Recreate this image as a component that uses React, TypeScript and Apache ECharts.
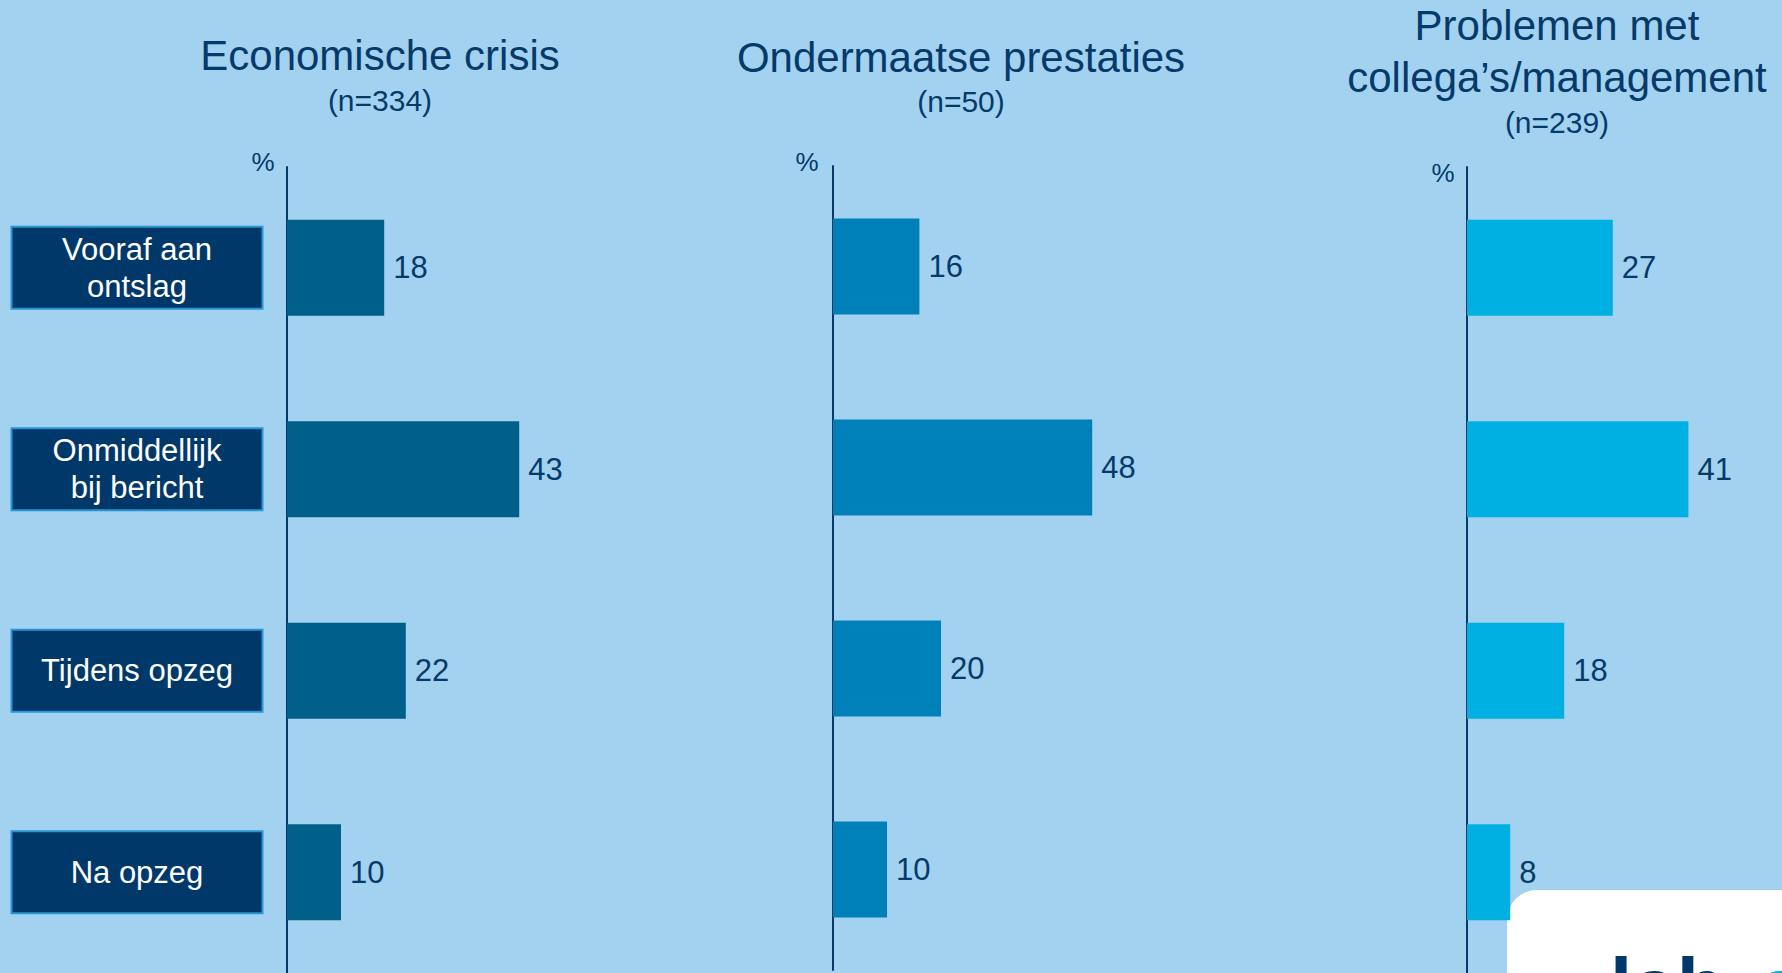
import React, { useEffect, useRef } from "react";
import * as echarts from "echarts";

// ---- data ----
const categories = ["Vooraf aan\nontslag", "Onmiddellijk\nbij bericht", "Tijdens opzeg", "Na opzeg"];
const panelTitles = ["Economische crisis", "Ondermaatse prestaties", "Problemen met\ncollega’s/management"];
const panelSizes = ["(n=334)", "(n=50)", "(n=239)"];
const economischeCrisis = [18, 43, 22, 10];
const ondermaatsePrestaties = [16, 48, 20, 10];
const problemenMetCollegas = [27, 41, 18, 8];
const axisUnit = "%";
const logoText = "lab";

// ---- styles / layout ----
const FONT = "'Liberation Sans', Arial, sans-serif";
const BG = "#A2D2F0";
const NAVY = "#053A6B";
const BOX = "#00386A";
const BOX_BORDER = "#2A95D0";
const barColors = ["#00608A", "#0080B9", "#00B0E2"];
const gridLefts = [287, 833, 1467];
const gridTops = [167, 166, 167];
const gridHeights = [808, 804, 808];
const titleX = [380, 961, 1557];
const titleY = [55, 57, 51];
const subY = [100, 101, 122];
const unitPos = [[263, 162], [807, 162], [1443, 173]];

const seriesValues = [economischeCrisis, ondermaatsePrestaties, problemenMetCollegas];

export default function App() {
  const ref = useRef<HTMLDivElement>(null);
  useEffect(() => {
    if (!ref.current) return;
    const chart = echarts.init(ref.current, undefined, { renderer: "svg" });
    const graphic: any[] = [];
    // logo card (behind bars)
    graphic.push({
      type: "rect",
      z: 0,
      shape: { x: 1507, y: 890, width: 320, height: 140, r: 30 },
      style: { fill: "#FFFFFF" },
    });
    graphic.push({
      type: "text",
      z: 0,
      x: 1610,
      y: 986,
      style: { text: logoText, fill: "#00386A", font: `bold 80px ${FONT}`, verticalAlign: "middle" },
    });
    graphic.push({
      type: "text",
      z: 0,
      x: 1756,
      y: 986,
      style: { text: "o", fill: "#00AEE3", font: `bold 80px ${FONT}`, verticalAlign: "middle" },
    });
    panelTitles.forEach((t, i) => {
      graphic.push({
        type: "text",
        x: titleX[i],
        y: titleY[i],
        style: { text: t, fill: NAVY, font: `42px ${FONT}`, lineHeight: 52, align: "center", verticalAlign: "middle" },
      });
      graphic.push({
        type: "text",
        x: titleX[i],
        y: subY[i],
        style: { text: panelSizes[i], fill: NAVY, font: `30px ${FONT}`, align: "center", verticalAlign: "middle" },
      });
      graphic.push({
        type: "text",
        x: unitPos[i][0],
        y: unitPos[i][1],
        style: { text: axisUnit, fill: NAVY, font: `26px ${FONT}`, align: "center", verticalAlign: "middle" },
      });
    });

    const option: any = {
      backgroundColor: BG,
      animation: false,
      grid: seriesValues.map((_, i) => ({
        left: gridLefts[i],
        top: gridTops[i],
        width: 297,
        height: gridHeights[i],
        containLabel: false,
      })),
      xAxis: seriesValues.map((_, i) => ({
        type: "value",
        gridIndex: i,
        min: 0,
        max: 55,
        show: false,
      })),
      yAxis: seriesValues.map((_, i) => ({
        type: "category",
        gridIndex: i,
        data: categories,
        inverse: true,
        axisLine: { show: true, lineStyle: { color: NAVY, width: 2 } },
        axisTick: { show: false },
        splitLine: { show: false },
        axisLabel:
          i === 0
            ? {
                show: true,
                interval: 0,
                margin: 150,
                align: "center",
                verticalAlign: "middle",
                width: 249,
                height: 80,
                backgroundColor: BOX,
                borderColor: BOX_BORDER,
                borderWidth: 2,
                color: "#FFFFFF",
                fontSize: 31,
                lineHeight: 37,
                fontFamily: FONT,
              }
            : { show: false },
      })),
      series: seriesValues.map((vals, i) => ({
        type: "bar",
        xAxisIndex: i,
        yAxisIndex: i,
        data: vals,
        barWidth: 96,
        z: 3,
        itemStyle: { color: barColors[i] },
        label: {
          show: true,
          position: "right",
          distance: 9,
          color: NAVY,
          fontSize: 31,
          fontFamily: FONT,
        },
      })),
      graphic,
    };
    chart.setOption(option);
    return () => chart.dispose();
  }, []);
  return (
    <div
      ref={ref}
      style={{ position: "fixed", left: 0, top: 0, width: 1782, height: 973 }}
    />
  );
}
